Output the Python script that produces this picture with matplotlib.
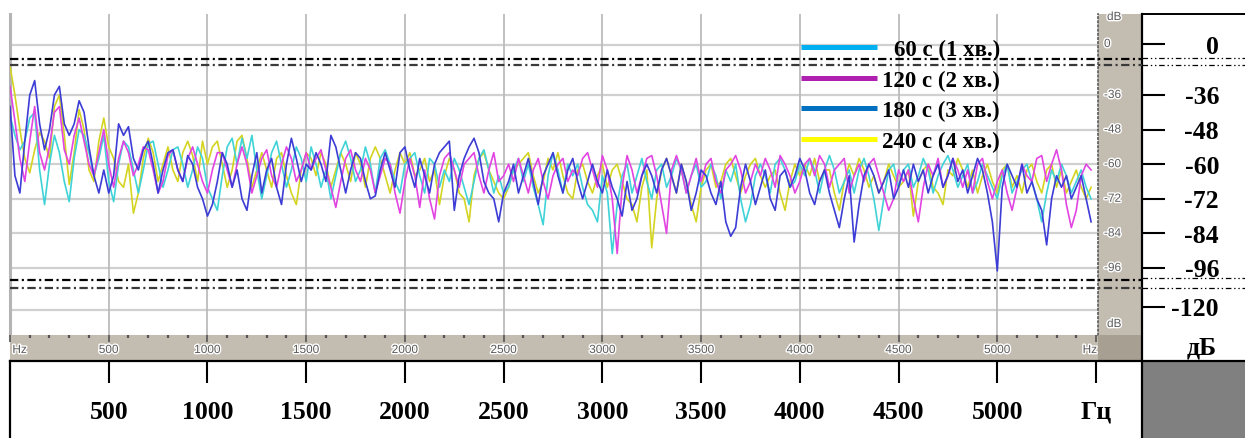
import numpy as np
import matplotlib
matplotlib.use("Agg")
import matplotlib.pyplot as plt
import matplotlib.patheffects as pe
from matplotlib.patches import Rectangle
from matplotlib.transforms import blended_transform_factory, offset_copy

plt.rcParams['lines.scale_dashes'] = False

# ---------------- data (dB, one value every 25 Hz starting at 0 Hz) ----------------
freq_step_hz = 25

cyan_db = [
    -43, -50, -55, -52, -44, -42, -62, -74, -60, -50, -56, -66, -73, -58, -48, -50, -56, -64, -58, -50, -66,
    -73, -60, -52, -54, -62, -70, -62, -53, -52, -60, -68, -62, -55, -54, -60, -68, -62, -54, -58, -68,
    -72, -76, -64, -54, -51, -60, -51, -58, -50, -62, -72, -64, -56, -52, -60, -68, -62, -54, -58, -66,
    -54, -60, -68, -62, -72, -64, -56, -52, -58, -66, -62, -54, -60, -70, -58, -55, -60, -66, -70, -60,
    -58, -56, -64, -70, -58, -60, -68, -62, -66, -58, -62, -68, -74, -66, -58, -55, -62, -70, -64, -70,
    -68, -62, -58, -66, -60, -68, -74, -81, -64, -56, -62, -70, -60, -64, -60, -68, -74, -76, -80, -64,
    -70, -91, -74, -64, -60, -70, -64, -58, -66, -72, -62, -60, -68, -64, -58, -62, -70, -64, -60, -68,
    -66, -60, -64, -72, -62, -66, -60, -72, -80, -74, -64, -60, -64, -70, -60, -58, -62, -68, -66, -60,
    -64, -58, -62, -70, -62, -57, -62, -70, -66, -62, -70, -62, -58, -64, -72, -83, -72, -62, -60, -68,
    -62, -60, -68, -64, -58, -62, -70, -64, -60, -57, -62, -68, -64, -60, -70, -66, -60, -64, -68, -72,
    -64, -60, -70, -66, -62, -60, -66, -72, -80, -70, -62, -66, -60, -64, -70, -66, -62, -68, -72,
]

magenta_db = [
    -33, -45, -58, -66, -52, -40, -56, -62, -54, -42, -40, -55, -60, -50, -44, -52, -60, -64, -56, -48, -60,
    -68, -58, -52, -56, -64, -60, -54, -55, -62, -70, -66, -57, -55, -62, -66, -58, -54, -60, -66, -70,
    -62, -56, -56, -62, -68, -60, -54, -60, -70, -64, -58, -55, -64, -68, -60, -54, -58, -66, -62, -56,
    -62, -58, -55, -62, -68, -75, -66, -58, -55, -62, -66, -58, -62, -70, -64, -58, -60, -70, -77, -66,
    -58, -64, -75, -62, -72, -79, -64, -58, -56, -62, -68, -60, -58, -56, -64, -70, -62, -56, -66, -64,
    -60, -66, -58, -64, -70, -62, -58, -66, -72, -64, -60, -58, -66, -62, -64, -58, -56, -62, -68, -57,
    -62, -72, -91, -68, -57, -62, -70, -64, -58, -57, -64, -74, -84, -62, -57, -62, -70, -64, -58, -66,
    -60, -58, -66, -70, -62, -60, -57, -62, -70, -66, -60, -64, -58, -62, -68, -57, -60, -64, -70, -66,
    -60, -58, -64, -57, -60, -68, -62, -60, -58, -70, -64, -60, -66, -60, -58, -64, -70, -76, -72, -62,
    -66, -62, -72, -80, -68, -60, -64, -58, -68, -64, -58, -62, -68, -62, -70, -60, -58, -66, -72, -66,
    -62, -70, -76, -68, -60, -64, -66, -58, -57, -66, -60, -55, -62, -74, -82, -76, -64, -60, -62,
]

blue_db = [
    -40, -64, -70, -52, -36, -31, -46, -55, -48, -36, -33, -46, -50, -46, -38, -42, -54, -64, -70, -62, -70,
    -64, -46, -50, -47, -58, -62, -55, -52, -60, -70, -62, -56, -55, -62, -66, -57, -60, -68, -72, -78,
    -74, -66, -56, -60, -68, -62, -72, -76, -64, -56, -70, -62, -58, -68, -74, -60, -51, -58, -66, -60,
    -62, -56, -60, -66, -50, -54, -62, -70, -62, -56, -58, -66, -72, -71, -62, -56, -62, -68, -56, -54,
    -62, -68, -58, -64, -70, -60, -56, -54, -52, -76, -64, -58, -54, -51, -56, -66, -70, -72, -80, -70,
    -66, -60, -70, -64, -58, -66, -74, -64, -60, -56, -64, -70, -62, -58, -66, -72, -66, -60, -66, -70,
    -62, -68, -72, -78, -66, -76, -72, -64, -60, -64, -70, -62, -58, -64, -70, -60, -66, -76, -70, -62,
    -64, -70, -74, -66, -80, -85, -82, -68, -60, -66, -74, -68, -62, -72, -76, -64, -62, -68, -64, -58,
    -62, -70, -74, -66, -62, -70, -76, -82, -72, -64, -87, -74, -64, -60, -64, -70, -66, -62, -72, -68,
    -62, -68, -60, -66, -62, -70, -64, -60, -68, -64, -58, -66, -62, -70, -64, -58, -62, -70, -80, -97,
    -68, -60, -64, -68, -60, -70, -66, -72, -76, -88, -72, -64, -68, -64, -72, -68, -64, -72, -80,
]

yellow_db = [
    -26, -36, -48, -58, -63, -55, -49, -52, -58, -40, -36, -50, -67, -56, -41, -48, -62, -66, -52, -44, -54,
    -58, -66, -68, -60, -77, -70, -58, -51, -56, -66, -60, -54, -62, -66, -56, -52, -57, -66, -52, -60,
    -54, -52, -60, -68, -62, -52, -50, -58, -68, -62, -56, -62, -68, -58, -56, -64, -70, -74, -62, -56,
    -58, -64, -56, -60, -68, -62, -56, -60, -66, -56, -60, -68, -58, -54, -58, -64, -70, -62, -56, -60,
    -56, -64, -62, -58, -66, -62, -74, -64, -58, -62, -70, -72, -80, -64, -58, -56, -62, -66, -70, -72,
    -68, -62, -60, -58, -56, -64, -70, -66, -58, -62, -56, -64, -70, -72, -62, -60, -66, -70, -64, -60,
    -68, -62, -60, -66, -72, -74, -80, -68, -62, -89, -72, -62, -58, -64, -70, -60, -66, -74, -80, -68,
    -62, -60, -68, -66, -60, -58, -64, -70, -64, -60, -58, -64, -68, -64, -62, -70, -76, -66, -60, -64,
    -60, -64, -58, -66, -62, -62, -70, -76, -66, -60, -64, -58, -62, -68, -64, -70, -66, -60, -64, -68,
    -66, -62, -78, -66, -62, -60, -68, -70, -74, -62, -64, -58, -62, -68, -62, -70, -64, -60, -66, -70,
    -62, -60, -68, -64, -70, -62, -60, -66, -70, -62, -60, -68, -62, -70, -66, -62, -68, -72, -68,
]

legend_labels = ["60 с (1 хв.)", "120 с (2 хв.)", "180 с (3 хв.)", "240 с (4 хв.)"]
x_tick_values = [500, 1000, 1500, 2000, 2500, 3000, 3500, 4000, 4500, 5000]
x_unit_value = 5500
x_unit_label = "Гц"
inner_x_unit = "Hz"
right_tick_labels = ["0", "-36", "-48", "-60", "-72", "-84", "-96", "-120"]
inner_y_labels = ["0", "-36", "-48", "-60", "-72", "-84", "-96"]
inner_y_unit = "dB"
y_unit_label = "дБ"

# ---------------- layout helpers ----------------
W, H = 1245, 439
fig = plt.figure(figsize=(W / 100, H / 100), dpi=100)
fig.patch.set_facecolor("white")


def add_ax(l, t, r, b, **kw):
    return fig.add_axes([l / W, 1 - b / H, (r - l) / W, (b - t) / H], **kw)


PX_M36, PX_PER_DB = 96.0, 2.883


def db_at(py):
    return -36.0 - (py - PX_M36) / PX_PER_DB


XMAX = 5510
SERIF = "Liberation Serif"
SANS = "Liberation Sans"
STRIP = "#c3bcb1"
CORNER = "#a89f93"

curve_colors = {"cyan": "#3fd3d8", "yellow": "#d4d422", "magenta": "#e244e2", "blue": "#3c3cd6"}
legend_colors = ["#00b0f0", "#b020b0", "#0070c0", "#ffff00"]

# ---------------- main spectrum axes ----------------
ax = add_ax(10, 15, 1098, 336)
ax.set_xlim(0, XMAX)
ax.set_ylim(db_at(336), db_at(15))
ax.set_xticks([])
ax.set_yticks([])
for s in ax.spines.values():
    s.set_visible(False)
ax.spines["left"].set_visible(True)
ax.spines["left"].set_color("#b4b4b4")
ax.spines["left"].set_linewidth(2.2)

grid_y = [db_at(46), -36, -48, -60, -72, -84, -96, db_at(311)]
for g in grid_y:
    ax.axhline(g, color="#d0d0d0", lw=1.6, zorder=1)
for v in x_tick_values:
    ax.axvline(v, color="#bcbcbc", lw=1.3, zorder=1)

for vals, key in [(yellow_db, "yellow"), (cyan_db, "cyan"), (magenta_db, "magenta"), (blue_db, "blue")]:
    freqs = np.arange(len(vals)) * freq_step_hz
    ax.plot(freqs, vals, color=curve_colors[key], lw=1.2, zorder=3, solid_joinstyle="round")

# ---------------- inner bottom strip (Hz) ----------------
halo = [pe.withStroke(linewidth=2, foreground="white")]
axs = add_ax(10, 336, 1098, 361)
axs.set_facecolor(STRIP)
axs.set_xlim(0, XMAX)
axs.set_ylim(0, 1)
for s in axs.spines.values():
    s.set_visible(False)
axs.set_yticks([])
axs.set_xticks([0] + x_tick_values + [x_unit_value])
axs.set_xticks(np.arange(100, 5500, 100), minor=True)
axs.tick_params(axis="x", which="major", direction="in", top=True, bottom=False,
                labelbottom=False, length=5, width=1.2, color="#555555")
axs.tick_params(axis="x", which="minor", direction="in", top=True, bottom=False,
                length=2.2, width=1.6, color="#555555")
for v in x_tick_values:
    axs.text(v, 0.40, str(v), ha="center", va="center", fontsize=8.5, family=SANS,
             color="#5a5a5a", path_effects=halo)
axs.text(12, 0.40, inner_x_unit, ha="left", va="center", fontsize=8.5, family=SANS,
         color="#5a5a5a", path_effects=halo)
axs.text(5505, 0.40, inner_x_unit, ha="right", va="center", fontsize=8.5, family=SANS,
         color="#5a5a5a", path_effects=halo)

# ---------------- inner right strip (dB) ----------------
axrs = add_ax(1098, 15, 1142, 336)
axrs.set_facecolor(STRIP)
axrs.set_xlim(0, 44)
axrs.set_ylim(db_at(336), db_at(15))
for s in axrs.spines.values():
    s.set_visible(False)
axrs.spines["left"].set_visible(True)
axrs.spines["left"].set_linestyle((0, (1, 2)))
axrs.spines["left"].set_color("#5a5a5a")
axrs.spines["left"].set_linewidth(1.2)
axrs.set_xticks([])
axrs.set_yticks([])
inner_pos = [db_at(45), -36, -48, -60, -72, -84, -96]
for p, lab in zip(inner_pos, inner_y_labels):
    axrs.text(6, p, lab, ha="left", va="center", fontsize=8.5, family=SANS,
              color="#5a5a5a", path_effects=halo)
axrs.text(9, db_at(18), inner_y_unit, ha="left", va="center", fontsize=8.5, family=SANS,
          color="#5a5a5a", path_effects=halo)
axrs.text(9, db_at(325), inner_y_unit, ha="left", va="center", fontsize=8.5, family=SANS,
          color="#5a5a5a", path_effects=halo)

# ---------------- right panel (dB labels) ----------------
axr = add_ax(1142, 15, 1245, 362)
axr.set_facecolor("none")
axr.set_xlim(0, 103)
axr.set_ylim(db_at(362), db_at(15))
for s in axr.spines.values():
    s.set_visible(False)
axr.set_xticks([])
right_pos = [db_at(45), -36, -48, -60, -72, -84, -96, db_at(308)]
axr.set_yticks(right_pos)
axr.tick_params(axis="y", direction="in", left=True, labelleft=False, length=16.5, width=1.5, color="black")
lab_tr = offset_copy(axr.transData, fig=fig, y=-8.5 * 0.72, units="points")
for p, lab in zip(right_pos, right_tick_labels):
    axr.text(77, p, lab, ha="right", va="baseline", fontsize=18.5, fontweight="bold",
             family=SERIF, transform=lab_tr)

# ---------------- bottom panel (Hz labels) ----------------
axb = add_ax(10, 362, 1098, 439)
axb.set_facecolor("none")
axb.set_xlim(0, XMAX)
axb.set_ylim(0, 1)
for s in axb.spines.values():
    s.set_visible(False)
axb.set_yticks([])
axb.set_xticks(x_tick_values + [x_unit_value])
axb.tick_params(axis="x", direction="in", top=True, bottom=False, labelbottom=False,
                length=15.8, width=1.5, color="black")
btr = blended_transform_factory(axb.transData, axb.transAxes)
for v in x_tick_values:
    axb.text(v, (439 - 419) / 77, str(v), ha="center", va="baseline", fontsize=18.5,
             fontweight="bold", family=SERIF, transform=btr)
axb.text(x_unit_value, (439 - 419) / 77, x_unit_label, ha="center", va="baseline", fontsize=18.5,
         fontweight="bold", family=SERIF, transform=btr)

# ---------------- overlay (frame lines, thresholds, legend) ----------------
axo = fig.add_axes([0, 0, 1, 1])
axo.set_zorder(10)
axo.patch.set_visible(False)
axo.set_xlim(0, W)
axo.set_ylim(H, 0)
axo.axis("off")

axo.add_patch(Rectangle((1098, 336), 44, 25, facecolor=CORNER, edgecolor="none"))
axo.add_patch(Rectangle((1142, 362), 103, 77, facecolor="#808080", edgecolor="none"))

# panel borders
axo.plot([10, 1245], [362, 362], color="black", lw=1.6)
axo.plot([10, 10], [362, 439], color="black", lw=1.6)
axo.plot([1142, 1142], [15, 439], color="black", lw=1.6)
axo.plot([1142, 1245], [15, 15], color="black", lw=1.4)

# dash-dot threshold lines
for yy, col in [(60, "black"), (66, "#3a3a3a"), (281, "black"), (289, "#3a3a3a")]:
    axo.plot([10, 1142], [yy, yy], color=col, lw=1.6, dashes=(6, 2.5, 1.5, 2.5))
for yy in [59, 66, 279, 289]:
    axo.plot([1142, 1245], [yy, yy], color="black", lw=0.9, dashes=(4, 2, 1, 2, 1, 2))

# legend
legend_y = [48, 79, 109, 140]
for yy, col, lab in zip(legend_y, legend_colors, legend_labels):
    axo.plot([801, 877], [yy, yy], color=col, lw=3.6, solid_capstyle="butt")
    axo.text(1000, yy + 8.5, lab, ha="right", va="baseline", fontsize=16.5,
             fontweight="bold", family=SERIF, color="black")

axo.text(1202, 355, y_unit_label, ha="center", va="baseline", fontsize=18.5,
         fontweight="bold", family=SERIF)

fig.savefig("out.png", dpi=100, facecolor="white")
